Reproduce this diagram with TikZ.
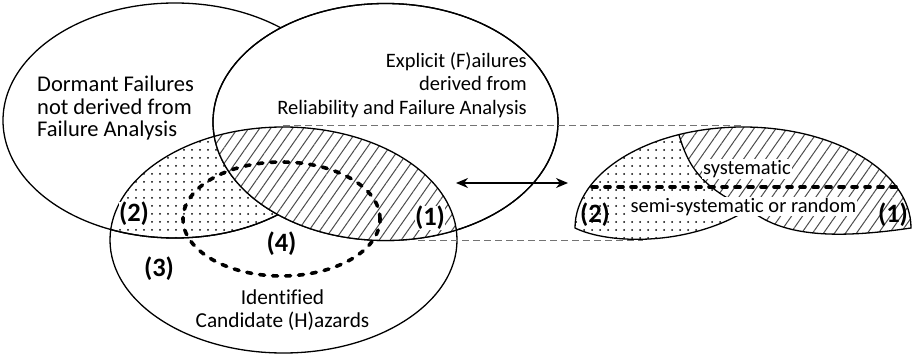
\documentclass[tikz,border=0pt]{standalone}
\usepackage{fontspec}
\setmainfont{Carlito}[Ligatures=NoCommon]
\usetikzlibrary{patterns.meta,arrows.meta}
\begin{document}
\begin{tikzpicture}[x=1pt,y=-1pt,
  outline/.style={line width=1.3pt},
  thickdash/.style={line width=3.6pt, dash pattern=on 5pt off 8pt, line cap=round},
  guide/.style={line width=0.9pt, black!55, dash pattern=on 7pt off 4pt},
  dotfill/.style={pattern={Dots[distance=8pt,radius=1pt]}, pattern color=black},
  hatchfill/.style={pattern={Lines[angle=55,distance=9pt,line width=1pt]}, pattern color=black!70},
  txt/.style={font=\fontsize{20.5pt}{24pt}\selectfont, inner sep=0pt},
  bigtxt/.style={font=\fontsize{22.5pt}{25pt}\selectfont, inner sep=0pt},
  midtxt/.style={font=\fontsize{21.3pt}{24pt}\selectfont, inner sep=0pt},
  num/.style={font=\fontsize{26.5pt}{29pt}\selectfont\bfseries, inner sep=0.5pt},
  linkarrow/.style={line width=1.3pt, {Stealth[length=12pt,width=10pt]}-{Stealth[length=12pt,width=10pt]}},
]
\useasboundingbox (0,0) rectangle (920,358);

% the two failure sets; the explicit set hides the dormant one where they overlap
\draw[outline, fill=white] (175,120.5) ellipse [x radius=172pt, y radius=117.5pt];
\draw[outline, fill=white] (385.5,122) ellipse [x radius=172.5pt, y radius=118.5pt];

% shading of the hazard set: dotted with dormant, hatched with explicit failures
\begin{scope}
  \clip (283.5,240) ellipse [x radius=173.5pt, y radius=113pt];
  \fill[dotfill] (175,120.5) ellipse [x radius=172pt, y radius=117.5pt];
  \draw[outline] (175,120.5) ellipse [x radius=172pt, y radius=117.5pt];
  \fill[white] (385.5,122) ellipse [x radius=172.5pt, y radius=118.5pt];
  \fill[hatchfill] (385.5,122) ellipse [x radius=172.5pt, y radius=118.5pt];
\end{scope}
\draw[outline] (385.5,122) ellipse [x radius=172.5pt, y radius=118.5pt];
\draw[outline] (283.5,240) ellipse [x radius=173.5pt, y radius=113pt];
\draw[thickdash] (281.5,219) ellipse [x radius=98.5pt, y radius=57pt];

% set captions
\node[bigtxt, anchor=base west] (dorm1) at (37,92) {Dormant Failures};
\node[bigtxt, anchor=base west] (dorm2) at (37,114.5) {not derived from};
\node[bigtxt, anchor=base west] (dorm3) at (37,137) {Failure Analysis};
\node[txt, anchor=base east] (expl1) at (527,67.5) {Explicit (F)ailures};
\node[txt, anchor=base east] (expl2) at (527,91) {derived from};
\node[txt, anchor=base east] (expl3) at (527,114.5) {Reliability and Failure Analysis};
\node[midtxt, anchor=base] (haz1) at (282.5,304) {Identified};
\node[midtxt, anchor=base] (haz2) at (282.5,327) {Candidate (H)azards};

% region numbers
\node[num, fill=white] (m2) at (134,214) {(2)};
\node[num, fill=white] (m1) at (430,218) {(1)};
\node[num] (m3) at (159,269) {(3)};
\node[num] (m4) at (281.5,244) {(4)};

% projection guides and the link arrow
\coordinate (gt1) at (283,125);
\coordinate (gt2) at (743,125);
\coordinate (gb1) at (418,240);
\coordinate (gb2) at (643,240);
\draw[guide] (gt1) -- (gt2);
\draw[guide] (gb1) -- (gb2);
\coordinate (al) at (456,183);
\coordinate (ar) at (568,183);
\draw[linkarrow] (al) -- (ar);

% detail of the shaded band
\begin{scope}
  \clip (575,228) arc[start angle=180, end angle=0, x radius=168pt, y radius=101pt]
     .. controls (830,240) and (780,235) .. (749,209)
     .. controls (690,246) and (610,245) .. (575,228) -- cycle;
  \fill[hatchfill] (560,110) rectangle (920,250);
  \fill[white] (560,110) -- (674,110) -- (677,128) .. controls (686,160) and (695,185) .. (749,209) -- (749,250) -- (560,250) -- cycle;
  \fill[dotfill] (560,110) -- (674,110) -- (677,128) .. controls (686,160) and (695,185) .. (749,209) -- (749,250) -- (560,250) -- cycle;
  \draw[outline] (674,110) -- (677,128) .. controls (686,160) and (695,185) .. (749,209);
\end{scope}
\draw[outline] (575,228) arc[start angle=180, end angle=0, x radius=168pt, y radius=101pt]
     .. controls (830,240) and (780,235) .. (749,209)
     .. controls (690,246) and (610,245) .. (575,228) -- cycle;
\coordinate (sl) at (592,187);
\coordinate (sr) at (897,187);
\draw[thickdash] (sl) -- (sr);
\node[txt, fill=white, inner sep=1pt, anchor=base] (sys) at (747,174.5) {systematic};
\node[txt, fill=white, inner sep=1pt, anchor=base] (semi) at (743.5,212) {semi-systematic or random};
\node[num] (r2) at (595,215) {(2)};
\node[num] (r1) at (893,215) {(1)};
\end{tikzpicture}
\end{document}
